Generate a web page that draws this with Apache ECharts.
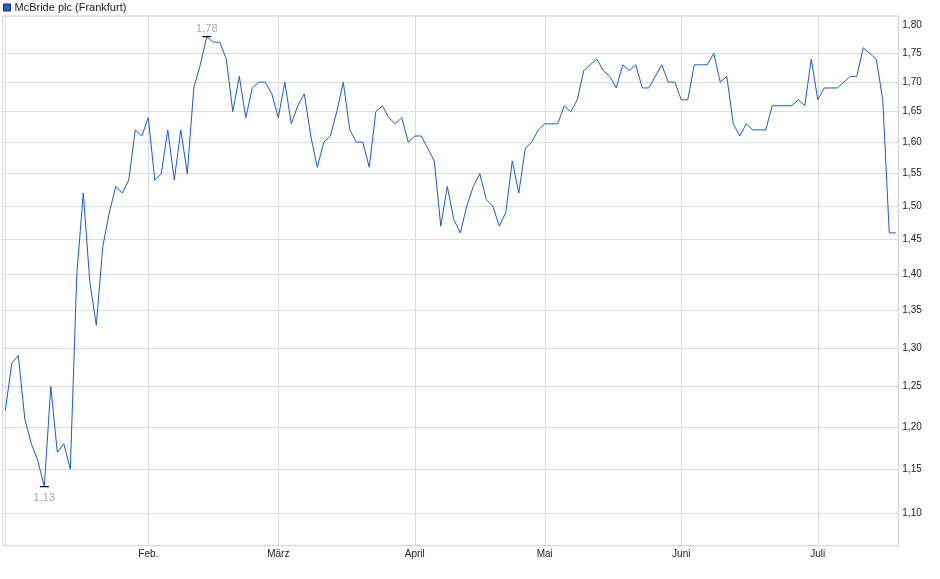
<!DOCTYPE html>
<html>
<head>
<meta charset="utf-8">
<script src="https://cdn.jsdelivr.net/npm/echarts@6/dist/echarts.min.js"></script>
<style>
html,body{margin:0;padding:0;background:#fff;}
#c{width:940px;height:579px;}
</style>
</head>
<body>
<div id="c"></div>
<script>
// ---- data ----
const seriesName = 'McBride plc (Frankfurt)';
const firstTradingDay = '2025-01-02';
const holidays = ['2025-04-18', '2025-04-21', '2025-05-01'];
const monthLabels = ['Jan.', 'Feb.', 'März', 'April', 'Mai', 'Juni', 'Juli', 'Aug.', 'Sep.', 'Okt.', 'Nov.', 'Dez.'];
const yTickLabels = [1.10, 1.15, 1.20, 1.25, 1.30, 1.35, 1.40, 1.45, 1.50, 1.55, 1.60, 1.65, 1.70, 1.75, 1.80];
const yGridValues = [1.10, 1.15, 1.20, 1.25, 1.30, 1.35, 1.40, 1.45, 1.50, 1.55, 1.60, 1.65, 1.70, 1.75];
const pricesJan = [1.22, 1.28, 1.29, 1.21, 1.18, 1.16, 1.13, 1.25, 1.17, 1.18, 1.15, 1.40, 1.52, 1.39, 1.33, 1.44, 1.49, 1.53, 1.52, 1.54, 1.62, 1.61];
const pricesFeb = [1.64, 1.54, 1.55, 1.62, 1.54, 1.62, 1.55, 1.69, 1.73, 1.78, 1.77, 1.77, 1.74, 1.65, 1.71, 1.64, 1.69, 1.70, 1.70, 1.68];
const pricesMar = [1.64, 1.70, 1.63, 1.66, 1.68, 1.61, 1.56, 1.60, 1.61, 1.65, 1.70, 1.62, 1.60, 1.60, 1.56, 1.65, 1.66, 1.64, 1.63, 1.64, 1.60];
const pricesApr = [1.61, 1.61, 1.59, 1.57, 1.47, 1.53, 1.48, 1.46, 1.50, 1.53, 1.55, 1.51, 1.50, 1.47, 1.49, 1.57, 1.52, 1.59, 1.60, 1.62];
const pricesMay = [1.63, 1.63, 1.63, 1.66, 1.65, 1.67, 1.72, 1.73, 1.74, 1.72, 1.71, 1.69, 1.73, 1.72, 1.73, 1.69, 1.69, 1.71, 1.73, 1.70, 1.70];
const pricesJun = [1.67, 1.67, 1.73, 1.73, 1.73, 1.75, 1.70, 1.71, 1.63, 1.61, 1.63, 1.62, 1.62, 1.62, 1.66, 1.66, 1.66, 1.66, 1.67, 1.66, 1.74];
const pricesJul = [1.67, 1.69, 1.69, 1.69, 1.70, 1.71, 1.71, 1.76, 1.75, 1.74, 1.67, 1.46, 1.46];

const prices = [].concat(pricesJan, pricesFeb, pricesMar, pricesApr, pricesMay, pricesJun, pricesJul);

// trading-day calendar (weekdays minus exchange holidays)
const dates = [];
const d = new Date(firstTradingDay + 'T00:00:00Z');
while (dates.length < prices.length) {
  const s = d.toISOString().slice(0, 10);
  const dow = d.getUTCDay();
  if (dow !== 0 && dow !== 6 && holidays.indexOf(s) < 0) dates.push(s);
  d.setUTCDate(d.getUTCDate() + 1);
}
const monthStarts = [0];
for (let i = 1; i < dates.length; i++) {
  if (dates[i].slice(5, 7) !== dates[i - 1].slice(5, 7)) monthStarts.push(i);
}
const fmt = v => v.toFixed(2).replace('.', ',');
const FONT = '"Liberation Sans", Arial, sans-serif';

const chart = echarts.init(document.getElementById('c'), null, { renderer: 'canvas' });
chart.setOption({
  animation: false,
  backgroundColor: '#fff',
  legend: {
    show: true,
    left: 3, top: 2, padding: 0,
    itemWidth: 7, itemHeight: 7, itemGap: 5,
    data: [{ name: seriesName, icon: 'rect', itemStyle: { color: '#2460c8', borderColor: '#132f6e', borderWidth: 1 } }],
    textStyle: { fontFamily: FONT, fontSize: 11, color: '#222', padding: [0, 0, 0, -1] }
  },
  grid: {
    left: 2.7, right: 41.7, top: 16, bottom: 33.3,
    show: true, borderColor: '#cfcfcf', borderWidth: 1, backgroundColor: '#fff'
  },
  xAxis: {
    type: 'value',
    min: -0.4,
    max: prices.length - 1 + 0.39,
    axisLine: { show: false },
    axisTick: { show: false, customValues: monthStarts },
    splitLine: { show: true, lineStyle: { color: '#dcdcdc', width: 1 } },
    axisLabel: {
      customValues: monthStarts.slice(1),
      formatter: v => monthLabels[parseInt(dates[Math.round(v)].slice(5, 7), 10) - 1],
      fontFamily: FONT, fontSize: 10, color: '#222', margin: 4
    }
  },
  yAxis: {
    type: 'log',
    logBase: 10,
    position: 'right',
    min: 1.0646,
    max: 1.8174,
    axisLine: { show: false },
    axisTick: { show: false, customValues: yGridValues },
    splitLine: { show: true, lineStyle: { color: '#dcdcdc', width: 1 } },
    axisLabel: {
      customValues: yTickLabels,
      formatter: v => fmt(v),
      fontFamily: FONT, fontSize: 10, color: '#222', margin: 4,
      padding: [3, 0, 0, 0]
    }
  },
  series: [{
    name: seriesName,
    type: 'line',
    data: prices.map((v, i) => [i, v]),
    showSymbol: false,
    symbol: 'none',
    lineStyle: { color: '#1c5cc8', width: 1 },
    itemStyle: { color: '#1c5cc8' },
    markPoint: {
      symbol: 'rect',
      symbolSize: [9, 1.2],
      itemStyle: { color: '#000' },
      label: {
        show: true,
        formatter: p => fmt(p.value),
        fontFamily: FONT, fontSize: 11, color: '#a8a8a8'
      },
      data: [
        { type: 'max', valueDim: 'y', label: { position: 'top', distance: 2 } },
        { type: 'min', valueDim: 'y', label: { position: 'bottom', distance: 5 } }
      ]
    }
  }]
});
</script>
</body>
</html>
